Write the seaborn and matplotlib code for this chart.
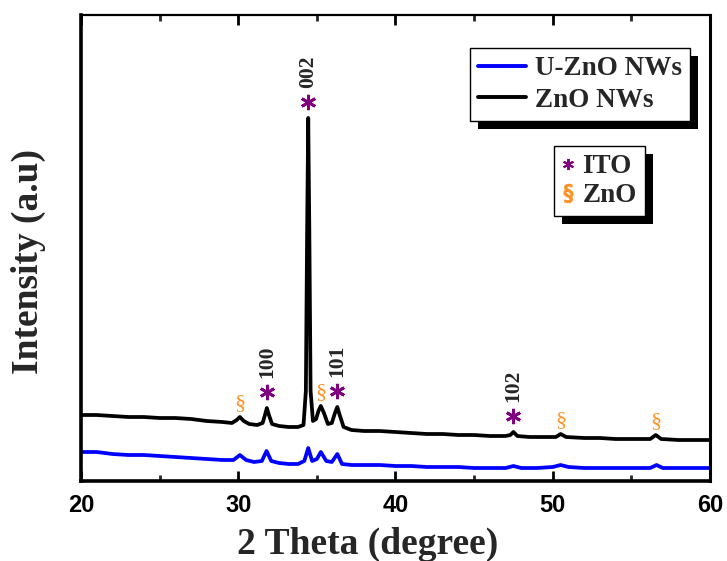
import numpy as np
import pandas as pd
import seaborn as sns
import matplotlib
matplotlib.use("Agg")
import matplotlib.pyplot as plt
from matplotlib.lines import Line2D
from matplotlib.patches import Rectangle

# ---------------- data ----------------
zno_x = [20, 21, 22, 23, 24, 25, 26, 27, 28, 29, 29.6, 29.9, 30.1, 30.35, 30.7, 31.2,
         31.55, 31.7, 31.82, 31.95, 32.15, 32.6, 33.2, 33.8, 34.15, 34.3, 34.38, 34.45,
         34.52, 34.6, 34.75, 34.95, 35.1, 35.25, 35.45, 35.7, 35.95, 36.15, 36.3, 36.45,
         36.7, 37.2, 38, 39, 40, 41, 42, 43, 44, 45, 46, 47, 47.3, 47.5, 47.75, 48.5,
         49.5, 50.2, 50.5, 50.85, 52, 53, 54, 55, 56.2, 56.55, 56.9, 58, 59, 60]
zno_y = [66, 66, 65, 64, 64, 63, 63, 62, 60, 59, 58, 61, 64, 60, 57, 56,
         58, 66, 73, 66, 57, 55, 54, 54, 56, 90, 250, 363,
         250, 90, 60, 62, 70, 75, 68, 57, 58, 68, 74, 66,
         54, 51, 50, 50, 49, 48, 47, 47, 46, 46, 45, 45, 46, 49, 45, 44,
         44, 44, 47, 44, 43, 43, 42, 42, 42, 46, 42, 41, 41, 41]

uzno_x = [20, 21, 22, 23, 24, 25, 26, 27, 28, 29, 29.7, 30.1, 30.5, 31.0, 31.5, 31.8,
          32.1, 32.6, 33.2, 33.8, 34.2, 34.45, 34.7, 35.0, 35.25, 35.6, 35.95, 36.3,
          36.6, 37.2, 38, 39, 40, 41, 42, 43, 44, 45, 46, 47, 47.5, 48, 49, 50, 50.5,
          51, 52, 53, 54, 55, 56.2, 56.6, 57, 58, 59, 60]
uzno_y = [29, 29, 27, 26, 26, 25, 24, 23, 22, 21, 21, 26, 21, 19, 20, 30,
          20, 18, 17, 17, 20, 33, 20, 22, 29, 20, 19, 27,
          17, 16, 16, 16, 15, 15, 14, 14, 14, 13, 13, 13, 15, 13, 13, 14, 16,
          14, 13, 13, 13, 13, 13, 16, 13, 13, 13, 13]

series_names = ["U-ZnO NWs", "ZnO NWs"]
series_colors = ["#0000FF", "#000000"]

ito_peaks = [31.82, 34.45, 36.3, 47.5]
ito_labels = ["100", "002", "101", "102"]
zno_peaks = [30.1, 35.25, 50.5, 56.55]

xticks = [20, 30, 40, 50, 60]

# ---------------- figure ----------------
sns.set_theme(style="ticks")
plt.rcParams["font.family"] = ["Liberation Serif", "DejaVu Serif"]

W, H = 727, 561
fig = plt.figure(figsize=(W / 100, H / 100), dpi=100)
ax = fig.add_axes([81 / W, (H - 481) / H, 629 / W, 466 / H])

df = pd.concat([
    pd.DataFrame({"theta": uzno_x, "intensity": uzno_y, "sample": series_names[0]}),
    pd.DataFrame({"theta": zno_x, "intensity": zno_y, "sample": series_names[1]}),
])
sns.lineplot(data=df, x="theta", y="intensity", hue="sample",
             palette=dict(zip(series_names, series_colors)),
             linewidth=2.7, ax=ax, legend=False, estimator=None)

ax.set_xlim(20, 60)
ax.set_ylim(0, 466)
ax.set_xticks(xticks)
ax.set_xticks([25, 35, 45, 55], minor=True)
ax.set_yticks([])
ax.set_xticklabels([str(t) for t in xticks], fontfamily="Liberation Sans",
                   fontweight="bold", fontsize=17)
ax.tick_params(axis="x", which="major", direction="in", length=7, width=2,
               top=True, pad=9, colors="black")
ax.tick_params(axis="x", which="minor", direction="in", length=4, width=2, top=True)

for side, lw in [("left", 2.6), ("bottom", 2.6), ("right", 2.2), ("top", 1.6)]:
    ax.spines[side].set_linewidth(lw)
    ax.spines[side].set_color("black")

ax.set_xlabel("2 Theta (degree)", fontsize=27, fontweight="bold")
ax.xaxis.set_label_coords((368 - 81) / 629, (481 - 527) / 466)
ax.set_ylabel("Intensity (a.u)", fontsize=27, fontweight="bold")
ax.yaxis.set_label_coords((46 - 81) / 629, (481 - 262) / 466)

# ---------------- peak annotations ----------------
purple = "#800080"
orange = "#FF9125"
star = (6, 2, 0)
ito_y = np.interp(ito_peaks, zno_x, zno_y)
ax.plot(ito_peaks, ito_y + 16, ls="none", marker=star, ms=11, mew=2.0,
        color=purple, zorder=3)
for pos, yp, lab in zip(ito_peaks, ito_y, ito_labels):
    ax.text(pos, yp + 30, lab, rotation=90, fontsize=15.5, fontweight="bold",
            ha="center", va="bottom")
for pos in zno_peaks:
    yp = np.interp(pos, zno_x, zno_y)
    ax.text(pos, yp + 4, "§", color=orange, fontsize=16, ha="center", va="bottom")

# ---------------- legends ----------------
h1 = [Line2D([], [], color=c, lw=2.8) for c in series_colors]
leg1 = ax.legend(h1, series_names, loc="upper left",
                 bbox_to_anchor=((470 - 81) / 629, (481 - 48) / 466),
                 borderaxespad=0, frameon=True, fancybox=False, framealpha=1,
                 edgecolor="black", prop={"weight": "bold", "size": 19.5},
                 handlelength=1.75, handletextpad=0.35, labelspacing=0.25,
                 borderpad=0.3)
leg1.get_frame().set_linewidth(1.0)
ax.add_artist(leg1)

h2 = [Line2D([], [], ls="none", marker=star, color=purple, markersize=8, mew=1.4),
      Line2D([], [], ls="none", marker="$§$", color=orange, markersize=13)]
leg2 = ax.legend(h2, ["ITO", "ZnO"], loc="upper left",
                 bbox_to_anchor=((554 - 81) / 629, (481 - 146) / 466),
                 borderaxespad=0, frameon=True, fancybox=False, framealpha=1,
                 edgecolor="black", prop={"weight": "bold", "size": 19.5},
                 handlelength=0.45, handletextpad=0.3, labelspacing=0.15,
                 borderpad=0.3)
leg2.get_frame().set_linewidth(1.0)

fig.canvas.draw()
for leg in (leg1, leg2):
    bb = leg.get_frame().get_window_extent()
    off = 8
    rect = Rectangle(((bb.x0 + off) / W, (bb.y0 - off) / H), bb.width / W, bb.height / H,
                     transform=fig.transFigure, facecolor="black", edgecolor="none",
                     zorder=4, clip_on=False)
    ax.add_patch(rect)

fig.savefig("out.png", dpi=100)
